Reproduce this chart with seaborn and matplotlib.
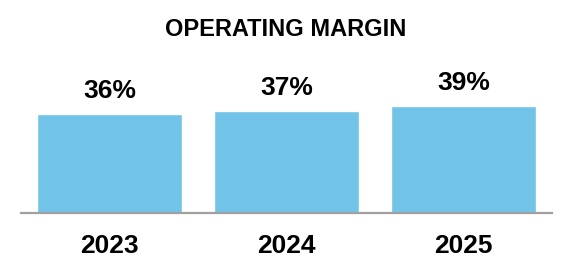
import matplotlib
matplotlib.use("Agg")
import matplotlib.pyplot as plt
import seaborn as sns
import pandas as pd

years = ["2023", "2024", "2025"]
margins = [36, 37, 39]
labels = ["36%", "37%", "39%"]
title = "OPERATING MARGIN"

sns.set_theme(style="white")
plt.rcParams["font.family"] = ["Liberation Sans", "DejaVu Sans"]

df = pd.DataFrame({"year": years, "margin": margins})

W, H = 572, 280
fig = plt.figure(figsize=(W / 100, H / 100), dpi=100)
left, right, bottom = 21, 552, 213
ymax = 50
px_per_unit = 2.75
top = bottom - ymax * px_per_unit
ax = fig.add_axes([left / W, (H - bottom) / H, (right - left) / W, (bottom - top) / H])

sns.barplot(data=df, x="year", y="margin", color="#71C4E8", saturation=1,
            width=0.82, ax=ax)
ax.set_xlim(-0.5, 2.5)
ax.set_ylim(0, ymax)

for i, (v, lab) in enumerate(zip(margins, labels)):
    ax.annotate(lab, xy=(i, v), xytext=(0, 11.5), textcoords="offset points",
                ha="center", va="baseline", fontsize=19, fontweight="bold",
                color="black", annotation_clip=False)

for s in ["top", "right", "left"]:
    ax.spines[s].set_visible(False)
ax.spines["bottom"].set_color("#A0A0A0")
ax.spines["bottom"].set_linewidth(1.6)
ax.set_yticks([])
ax.set_xlabel("")
ax.set_ylabel("")
ax.tick_params(axis="x", length=0, pad=15)
for t in ax.get_xticklabels():
    t.set_fontsize(19)
    t.set_fontweight("bold")
    t.set_color("black")

fig.text(0.5, 1 - 30 / H, title, ha="center", va="center",
         fontsize=17, fontweight="bold", color="black")

fig.savefig("out.png", dpi=100)
